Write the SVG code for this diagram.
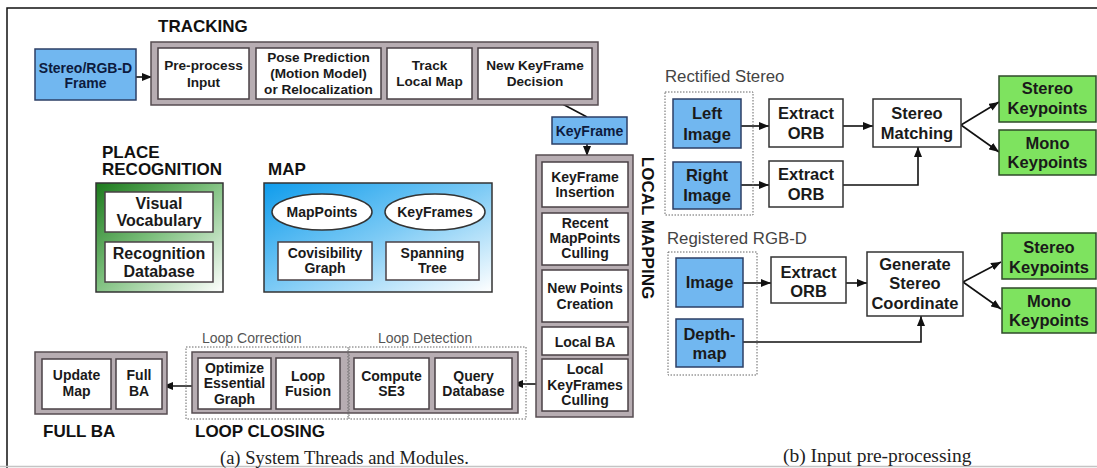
<svg xmlns="http://www.w3.org/2000/svg" width="1097" height="468" viewBox="0 0 1097 468">
<defs>
<style>
.frame{fill:none;stroke:#111;stroke-width:1.5}
.grey{fill:#b7adb2;stroke:#574d52;stroke-width:1.5}
.wb{fill:#fff;stroke:#4a4045;stroke-width:1.5}
.rb{fill:#fff;stroke:#333;stroke-width:1.5}
.blue{fill:#71b7f0;stroke:#2d3f66;stroke-width:1.5}
.green{fill:#7ee35f;stroke:#2f4a2a;stroke-width:1.5}
.dot{fill:none;stroke:#666;stroke-width:1;stroke-dasharray:1.5 1.5}
.h{font-family:"Liberation Sans",Arial,sans-serif;font-weight:bold;font-size:17px;fill:#111}
.t{font-family:"Liberation Sans",Arial,sans-serif;font-weight:bold;font-size:14px;fill:#1a1a1a;text-anchor:middle}
.tt{font-family:"Liberation Sans",Arial,sans-serif;font-weight:bold;font-size:13.6px;fill:#1a1a1a;text-anchor:middle}
.tb{font-family:"Liberation Sans",Arial,sans-serif;font-weight:bold;font-size:14px;fill:#0d1b3e;text-anchor:middle}
.tp{font-family:"Liberation Sans",Arial,sans-serif;font-weight:bold;font-size:16px;fill:#1a1a1a;text-anchor:middle}
.tr{font-family:"Liberation Sans",Arial,sans-serif;font-weight:bold;font-size:16.5px;fill:#1a1a1a;text-anchor:middle}
.sub{font-family:"Liberation Sans",Arial,sans-serif;font-size:14px;fill:#555}
.lab{font-family:"Liberation Sans",Arial,sans-serif;font-size:16.8px;fill:#444}
.cap{font-family:"Liberation Serif","Times New Roman",serif;fill:#222}
.ln{fill:none;stroke:#111;stroke-width:1.6}
.la{fill:none;stroke:#111;stroke-width:1.6;marker-end:url(#ah)}
</style>
<marker id="ah" markerUnits="userSpaceOnUse" markerWidth="10" markerHeight="8" refX="10" refY="4" orient="auto">
<path d="M0,0 L10,4 L0,8 z" fill="#111"/>
</marker>
<linearGradient id="gg" x1="0" y1="0" x2="1" y2="1">
<stop offset="0" stop-color="#1c7a1c"/>
<stop offset="0.45" stop-color="#79bd79"/>
<stop offset="1" stop-color="#ffffff"/>
</linearGradient>
<linearGradient id="bg" x1="0" y1="0" x2="1" y2="1">
<stop offset="0" stop-color="#0f9cec"/>
<stop offset="0.5" stop-color="#7ccaf5"/>
<stop offset="1" stop-color="#ffffff"/>
</linearGradient>
</defs>

<g id="frame">
<path d="M7,468 L7,8 L1097,8" class="frame"/>
<line x1="0" y1="466.5" x2="1097" y2="466.5" stroke="#c4c4c4" stroke-width="1.5"/>
</g>

<g id="connectors">
<line x1="136" y1="77" x2="152" y2="77" class="la"/>
<line x1="553" y1="99" x2="587" y2="117" class="ln"/>
<line x1="587" y1="144" x2="587" y2="156" class="la"/>
<line x1="542" y1="384" x2="513" y2="384" class="la"/>
<line x1="198" y1="386" x2="163" y2="386" class="la"/>
<line x1="741" y1="126" x2="769" y2="126" class="la"/>
<line x1="741" y1="185" x2="769" y2="185" class="la"/>
<line x1="843" y1="126" x2="873" y2="126" class="la"/>
<polyline points="843,185 918,185 918,147" class="la"/>
<line x1="961" y1="125" x2="999" y2="102" class="la"/>
<line x1="961" y1="125" x2="999" y2="152" class="la"/>
<line x1="743" y1="283" x2="771" y2="283" class="la"/>
<line x1="846" y1="283" x2="867" y2="283" class="la"/>
<polyline points="743,342 921,342 921,316" class="la"/>
<line x1="963" y1="282" x2="1001" y2="262" class="la"/>
<line x1="963" y1="282" x2="1001" y2="309" class="la"/>
</g>

<g id="tracking">
<text x="158" y="32" class="h">TRACKING</text>
<rect x="151" y="42" width="447" height="63" class="grey"/>
<g id="preprocess"><rect x="158" y="48" width="91" height="51" class="wb"/>
<text x="203.5" y="70" class="tt">Pre-process</text><text x="203.5" y="87" class="tt">Input</text></g>
<g id="pose"><rect x="256" y="48" width="125" height="51" class="wb"/>
<text x="318.5" y="62" class="tt">Pose Prediction</text><text x="318.5" y="78" class="tt">(Motion Model)</text><text x="318.5" y="94" class="tt">or Relocalization</text></g>
<g id="tracklocal"><rect x="387" y="48" width="85" height="51" class="wb"/>
<text x="429.5" y="70" class="tt">Track</text><text x="429.5" y="86" class="tt">Local Map</text></g>
<g id="newkf"><rect x="478" y="48" width="114" height="51" class="wb"/>
<text x="535" y="70" class="tt">New KeyFrame</text><text x="535" y="86" class="tt">Decision</text></g>
</g>

<g id="frame-input">
<rect x="35" y="49" width="101" height="51" class="blue"/>
<text x="85.5" y="73" class="tb">Stereo/RGB-D</text><text x="85.5" y="88" class="tb">Frame</text>
</g>

<g id="keyframe">
<rect x="552" y="117" width="75" height="27" class="blue"/>
<text x="589.5" y="136" class="tb">KeyFrame</text>
</g>

<g id="localmapping">
<rect x="536" y="155" width="97" height="262" class="grey"/>
<text x="0" y="0" class="h" text-anchor="middle" dominant-baseline="central" transform="translate(647,228) rotate(90)">LOCAL MAPPING</text>
<g id="kfinsert"><rect x="542" y="162" width="86" height="45" class="wb"/>
<text x="585" y="182" class="t">KeyFrame</text><text x="585" y="197" class="t">Insertion</text></g>
<g id="mpculling"><rect x="542" y="213" width="86" height="52" class="wb"/>
<text x="585" y="228" class="t">Recent</text><text x="585" y="243" class="t">MapPoints</text><text x="585" y="258" class="t">Culling</text></g>
<g id="newpoints"><rect x="542" y="270" width="86" height="52" class="wb"/>
<text x="585" y="293" class="t">New Points</text><text x="585" y="309" class="t">Creation</text></g>
<g id="localba"><rect x="542" y="327" width="86" height="28" class="wb"/>
<text x="585" y="347" class="t">Local BA</text></g>
<g id="kfculling"><rect x="542" y="359" width="86" height="52" class="wb"/>
<text x="585" y="374" class="t">Local</text><text x="585" y="390" class="t">KeyFrames</text><text x="585" y="405" class="t">Culling</text></g>
</g>

<g id="placerecognition">
<text x="102" y="158" class="h">PLACE</text>
<text x="102" y="175" class="h">RECOGNITION</text>
<rect x="96" y="183" width="127" height="109" fill="url(#gg)" stroke="#333" stroke-width="1.5"/>
<g id="vocab"><rect x="105" y="192" width="108" height="40" class="wb"/>
<text x="159" y="209" class="tp">Visual</text><text x="159" y="226" class="tp">Vocabulary</text></g>
<g id="recdb"><rect x="105" y="242" width="108" height="40" class="wb"/>
<text x="159" y="259" class="tp">Recognition</text><text x="159" y="277" class="tp">Database</text></g>
</g>

<g id="map">
<text x="268" y="175" class="h">MAP</text>
<rect x="264" y="183" width="228" height="109" fill="url(#bg)" stroke="#333" stroke-width="1.5"/>
<g id="mappoints"><ellipse cx="322" cy="212" rx="50" ry="18" fill="#fff" stroke="#333" stroke-width="1.5"/>
<text x="322" y="217" class="t">MapPoints</text></g>
<g id="keyframes"><ellipse cx="435" cy="212" rx="50" ry="18" fill="#fff" stroke="#333" stroke-width="1.5"/>
<text x="435" y="217" class="t">KeyFrames</text></g>
<g id="covis"><rect x="278" y="242" width="94" height="38" class="wb"/>
<text x="325" y="258" class="t">Covisibility</text><text x="325" y="273" class="t">Graph</text></g>
<g id="spanning"><rect x="386" y="242" width="93" height="38" class="wb"/>
<text x="432.5" y="258" class="t">Spanning</text><text x="432.5" y="273" class="t">Tree</text></g>
</g>

<g id="loopclosing">
<text x="202" y="343" class="sub">Loop Correction</text>
<text x="378" y="343" class="sub">Loop Detection</text>
<rect x="192" y="352" width="326" height="61" class="grey"/>
<rect x="186" y="347" width="162" height="72" class="dot"/>
<rect x="349" y="347" width="177" height="72" class="dot"/>
<g id="optimize"><rect x="198" y="358" width="73" height="51" class="wb"/>
<text x="234.5" y="373" class="t">Optimize</text><text x="234.5" y="388" class="t">Essential</text><text x="234.5" y="404" class="t">Graph</text></g>
<g id="loopfusion"><rect x="276" y="358" width="64" height="51" class="wb"/>
<text x="308" y="381" class="t">Loop</text><text x="308" y="396" class="t">Fusion</text></g>
<g id="computese3"><rect x="354" y="358" width="75" height="51" class="wb"/>
<text x="391.5" y="381" class="t">Compute</text><text x="391.5" y="396" class="t">SE3</text></g>
<g id="querydb"><rect x="435" y="358" width="77" height="51" class="wb"/>
<text x="473.5" y="381" class="t">Query</text><text x="473.5" y="396" class="t">Database</text></g>
<text x="195" y="437" class="h">LOOP CLOSING</text>
</g>

<g id="fullba">
<rect x="35" y="352" width="132" height="62" class="grey"/>
<g id="updatemap"><rect x="42" y="359" width="69" height="50" class="wb"/>
<text x="76.5" y="380" class="t">Update</text><text x="76.5" y="396" class="t">Map</text></g>
<g id="fullbabox"><rect x="116" y="359" width="46" height="50" class="wb"/>
<text x="139" y="380" class="t">Full</text><text x="139" y="396" class="t">BA</text></g>
<text x="43" y="437" class="h">FULL BA</text>
</g>

<text x="220" y="464" class="cap" font-size="18.5px">(a) System Threads and Modules.</text>

<g id="rectified">
<text x="665" y="82" class="lab">Rectified Stereo</text>
<rect x="665" y="92" width="88" height="123" class="dot"/>
<g id="leftimage"><rect x="673" y="99" width="68" height="49" class="blue"/>
<text x="707" y="119" class="tr">Left</text><text x="707" y="140" class="tr">Image</text></g>
<g id="rightimage"><rect x="673" y="162" width="68" height="47" class="blue"/>
<text x="707" y="181" class="tr">Right</text><text x="707" y="201" class="tr">Image</text></g>
<g id="orb1"><rect x="769" y="99" width="74" height="48" class="rb"/>
<text x="806" y="119" class="tr">Extract</text><text x="806" y="139" class="tr">ORB</text></g>
<g id="orb2"><rect x="769" y="161" width="74" height="46" class="rb"/>
<text x="806" y="180" class="tr">Extract</text><text x="806" y="200" class="tr">ORB</text></g>
<g id="stereomatch"><rect x="873" y="99" width="88" height="48" class="rb"/>
<text x="917" y="119" class="tr">Stereo</text><text x="917" y="139" class="tr">Matching</text></g>
<g id="stereokp1"><rect x="999" y="76" width="97" height="46" class="green"/>
<text x="1047.5" y="94" class="tr">Stereo</text><text x="1047.5" y="114" class="tr">Keypoints</text></g>
<g id="monokp1"><rect x="999" y="130" width="97" height="45" class="green"/>
<text x="1047.5" y="149" class="tr">Mono</text><text x="1047.5" y="168" class="tr">Keypoints</text></g>
</g>

<g id="registered">
<text x="667" y="244" class="lab">Registered RGB-D</text>
<rect x="668" y="252" width="89" height="123" class="dot"/>
<g id="image"><rect x="676" y="258" width="67" height="49" class="blue"/>
<text x="709.5" y="288" class="tr">Image</text></g>
<g id="depthmap"><rect x="676" y="319" width="67" height="48" class="blue"/>
<text x="709.5" y="340" class="tr">Depth-</text><text x="709.5" y="359" class="tr">map</text></g>
<g id="orb3"><rect x="771" y="257" width="75" height="46" class="rb"/>
<text x="808.5" y="278" class="tr">Extract</text><text x="808.5" y="297" class="tr">ORB</text></g>
<g id="generate"><rect x="867" y="252" width="96" height="64" class="rb"/>
<text x="915" y="270" class="tr">Generate</text><text x="915" y="289" class="tr">Stereo</text><text x="915" y="309" class="tr">Coordinate</text></g>
<g id="stereokp2"><rect x="1002" y="233" width="94" height="46" class="green"/>
<text x="1049" y="253" class="tr">Stereo</text><text x="1049" y="273" class="tr">Keypoints</text></g>
<g id="monokp2"><rect x="1002" y="288" width="94" height="45" class="green"/>
<text x="1049" y="307" class="tr">Mono</text><text x="1049" y="326" class="tr">Keypoints</text></g>
</g>

<text x="783" y="462" class="cap" font-size="19.5px">(b) Input pre-processing</text>
</svg>
